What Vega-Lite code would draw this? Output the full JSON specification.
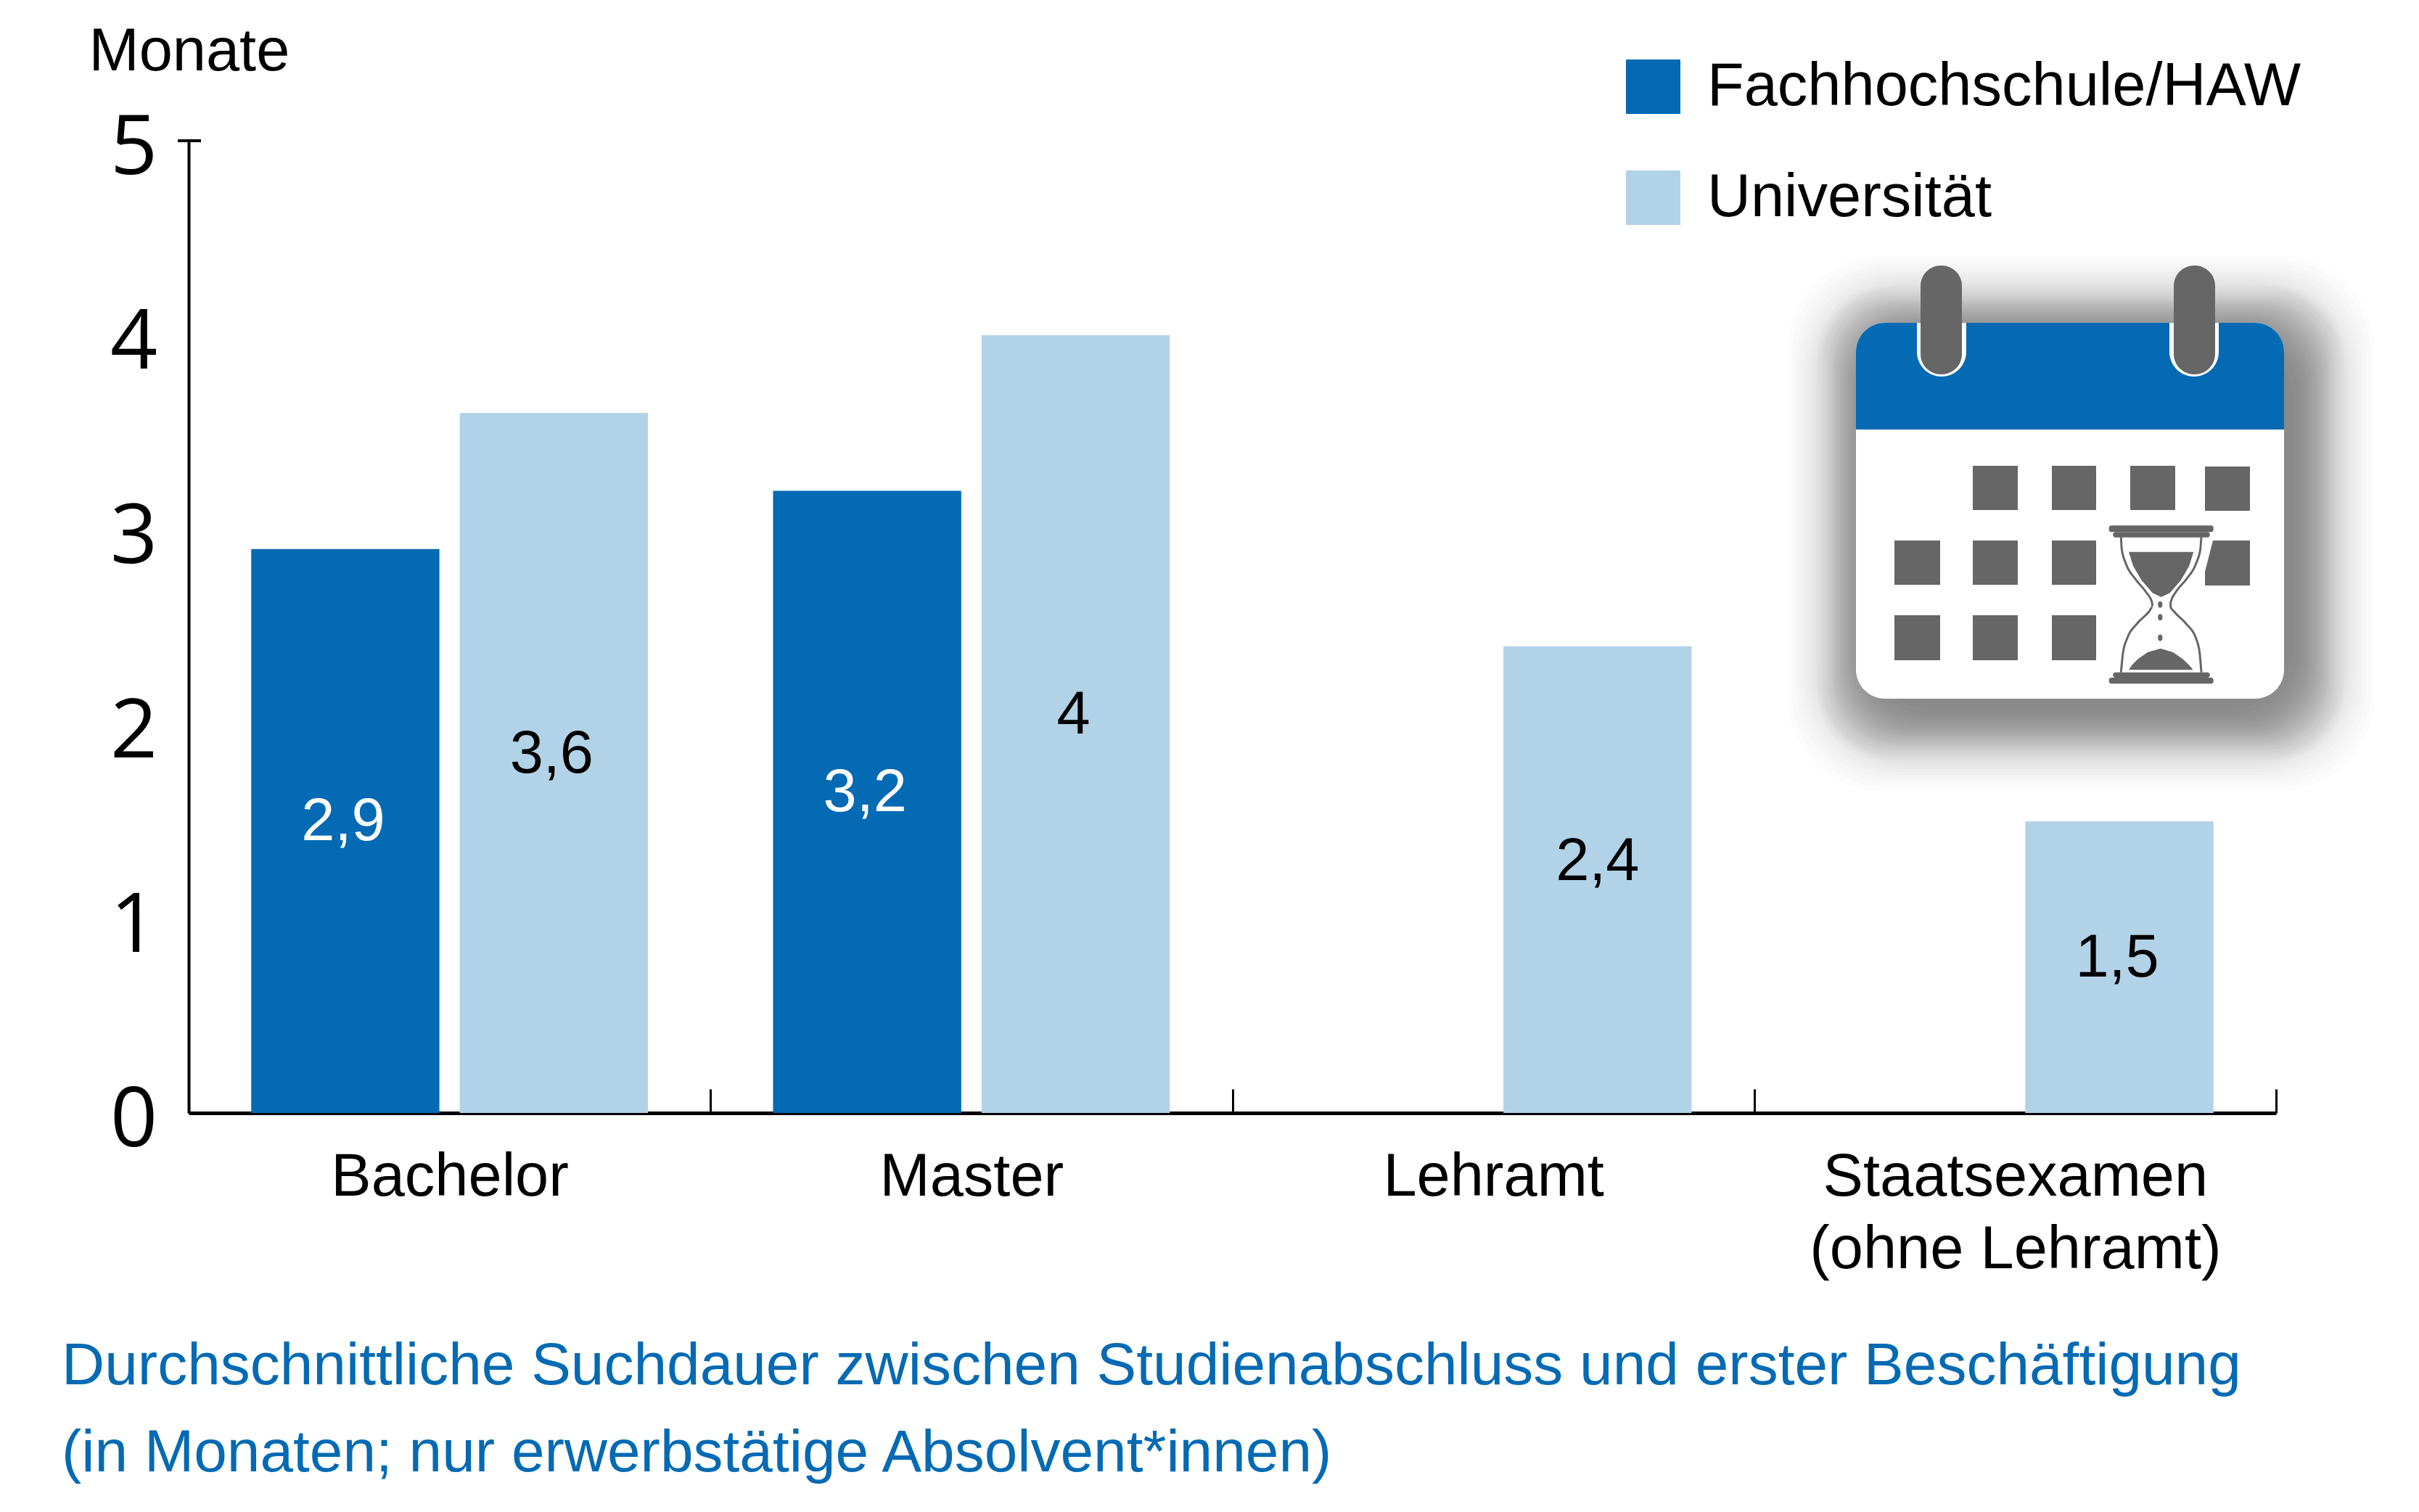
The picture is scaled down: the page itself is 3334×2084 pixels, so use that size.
{
"$schema":"https://vega.github.io/schema/vega-lite/v6.json",
"width":2877,"height":1340,
"autosize":{"type":"none"},
"padding":{"left":260,"top":194,"right":197,"bottom":550},
"background":"white",
"title":{"text":["Durchschnittliche Suchdauer zwischen Studienabschluss und erster Beschäftigung","(in Monaten; nur erwerbstätige Absolvent*innen)"],"orient":"bottom","anchor":"start","frame":"group","dx":-175,"offset":79,"font":"Liberation Sans","fontSize":82,"fontWeight":"normal","color":"#046AB3","lineHeight":120},
"datasets":{
"werte":[
{"Abschluss":"Bachelor","Hochschule":"Fachhochschule/HAW","Monate":2.9,"Wert":"2,9"},
{"Abschluss":"Bachelor","Hochschule":"Universität","Monate":3.6,"Wert":"3,6"},
{"Abschluss":"Master","Hochschule":"Fachhochschule/HAW","Monate":3.2,"Wert":"3,2"},
{"Abschluss":"Master","Hochschule":"Universität","Monate":4,"Wert":"4"},
{"Abschluss":"Lehramt","Hochschule":"Universität","Monate":2.4,"Wert":"2,4"},
{"Abschluss":"Staatsexamen (ohne Lehramt)","Hochschule":"Universität","Monate":1.5,"Wert":"1,5"}
],
"kappe":[{"x":245,"x2":277,"y":194}],
"schweif":[
{"x":2463,"x2":3273,"y":352,"y2":1090},{"x":2469,"x2":3267,"y":358,"y2":1084},{"x":2475,"x2":3261,"y":364,"y2":1078},{"x":2480,"x2":3256,"y":369,"y2":1073},{"x":2485,"x2":3251,"y":374,"y2":1068},
{"x":2489,"x2":3247,"y":378,"y2":1064},{"x":2493,"x2":3243,"y":382,"y2":1060},{"x":2497,"x2":3239,"y":386,"y2":1056},{"x":2500,"x2":3236,"y":389,"y2":1053},{"x":2503,"x2":3233,"y":392,"y2":1050}
],
"schatten":[
{"x":2506,"x2":3230,"y":395,"y2":1047},{"x":2510,"x2":3226,"y":399,"y2":1043},
{"x":2513,"x2":3223,"y":402,"y2":1040},{"x":2516,"x2":3220,"y":405,"y2":1037},{"x":2519,"x2":3217,"y":408,"y2":1034},{"x":2521,"x2":3215,"y":410,"y2":1032},{"x":2524,"x2":3212,"y":413,"y2":1029},
{"x":2526,"x2":3210,"y":415,"y2":1027},{"x":2528,"x2":3208,"y":417,"y2":1025},{"x":2530,"x2":3206,"y":419,"y2":1023},{"x":2532,"x2":3204,"y":421,"y2":1021},{"x":2534,"x2":3202,"y":423,"y2":1019},
{"x":2536,"x2":3200,"y":425,"y2":1017},{"x":2538,"x2":3198,"y":427,"y2":1015},{"x":2540,"x2":3196,"y":429,"y2":1013},{"x":2542,"x2":3194,"y":431,"y2":1011},{"x":2544,"x2":3192,"y":433,"y2":1009},
{"x":2546,"x2":3190,"y":435,"y2":1007},{"x":2549,"x2":3187,"y":438,"y2":1004},{"x":2551,"x2":3185,"y":440,"y2":1002},{"x":2554,"x2":3182,"y":443,"y2":999},{"x":2557,"x2":3179,"y":446,"y2":996},
{"x":2560,"x2":3176,"y":449,"y2":993},{"x":2564,"x2":3172,"y":453,"y2":989},{"x":2568,"x2":3168,"y":457,"y2":985},{"x":2575,"x2":3161,"y":464,"y2":978}
],
"blatt":[{"x":2558,"x2":3148,"y":445,"y2":963}],
"kopf":[{"x":2558,"x2":3148,"y":445,"y2":592}],
"ringrand":[{"x":2642,"x2":2710,"y":445,"y2":519},{"x":2990,"x2":3058,"y":445,"y2":519}],
"ringe":[{"x":2647,"x2":2704,"y":366,"y2":516},{"x":2996,"x2":3053,"y":366,"y2":516}],
"felder":[
{"x":2719,"x2":2781,"y":642,"y2":703},{"x":2828,"x2":2889,"y":642,"y2":703},{"x":2936,"x2":2998,"y":642,"y2":703},{"x":3039,"x2":3101,"y":643,"y2":704},
{"x":2611,"x2":2674,"y":745,"y2":806},{"x":2719,"x2":2781,"y":745,"y2":806},{"x":2828,"x2":2889,"y":745,"y2":806},
{"x":2611,"x2":2674,"y":848,"y2":910},{"x":2719,"x2":2781,"y":848,"y2":910},{"x":2828,"x2":2889,"y":848,"y2":910}
],
"flaechen":[
{"teil":"feld","y":745,"x":3050,"x2":3101},{"teil":"feld","y":788,"x":3039,"x2":3101},{"teil":"feld","y":807,"x":3039,"x2":3101},
{"teil":"oben","y":760.7,"x":2934,"x2":3023.3},{"teil":"oben","y":780,"x":2940,"x2":3017.3},{"teil":"oben","y":800,"x":2951.7,"x2":3005.7},{"teil":"oben","y":817.3,"x":2966.7,"x2":2990.7},{"teil":"oben","y":822.7,"x":2978.5,"x2":2979},
{"teil":"unten","y":894,"x":2977.3,"x2":2978.3},{"teil":"unten","y":899,"x":2960,"x2":2995},{"teil":"unten","y":908.3,"x":2946.7,"x2":3008.3},{"teil":"unten","y":916.7,"x":2938.3,"x2":3017.3},{"teil":"unten","y":923.3,"x":2934,"x2":3022.7}
],
"glas":[
{"seite":"links","y":740,"x":2923.3},{"seite":"links","y":756.7,"x":2924.3},{"seite":"links","y":776.7,"x":2930},{"seite":"links","y":798.3,"x":2943.3},{"seite":"links","y":816.7,"x":2958.3},{"seite":"links","y":830,"x":2966},{"seite":"links","y":836.7,"x":2966.7},{"seite":"links","y":843.3,"x":2961.7},{"seite":"links","y":860,"x":2945},{"seite":"links","y":880,"x":2931.7},{"seite":"links","y":900,"x":2926},{"seite":"links","y":926.7,"x":2923.3},
{"seite":"rechts","y":740,"x":3034},{"seite":"rechts","y":756.7,"x":3032.7},{"seite":"rechts","y":776.7,"x":3026.7},{"seite":"rechts","y":798.3,"x":3013.3},{"seite":"rechts","y":816.7,"x":2998.3},{"seite":"rechts","y":830,"x":2991.7},{"seite":"rechts","y":836.7,"x":2991.7},{"seite":"rechts","y":843.3,"x":2996.7},{"seite":"rechts","y":860,"x":3013.3},{"seite":"rechts","y":880,"x":3026.7},{"seite":"rechts","y":900,"x":3031.7},{"seite":"rechts","y":926.7,"x":3034}
],
"leisten":[
{"x":2906.7,"x2":3050.7,"y":724.3,"y2":733.3},{"x":2912.3,"x2":3045.7,"y":733.3,"y2":740.7},
{"x":2912.3,"x2":3045.7,"y":926.7,"y2":934},{"x":2906.7,"x2":3050.7,"y":934,"y2":942.3},
{"x":2974.3,"x2":2980.3,"y":828.8,"y2":837.8},{"x":2974.3,"x2":2980.3,"y":846.2,"y2":855.2},{"x":2974.3,"x2":2980.3,"y":874.5,"y2":883.5}
]
},
"resolve":{"scale":{"x":"independent","y":"independent","color":"independent"}},
"layer":[
{"data":{"name":"werte"},"mark":{"type":"bar"},
"encoding":{
"x":{"field":"Abschluss","type":"nominal","sort":null,"scale":{"domain":["Bachelor","Master","Lehramt","Staatsexamen (ohne Lehramt)"],"paddingInner":0,"paddingOuter":0},
"axis":{"title":null,"labelAngle":0,"labelFont":"Liberation Sans","labelFontSize":83,"labelColor":"black","labelLineHeight":100,"labelPadding":80,"labelBaseline":"top","labelLimit":0,"labelExpr":"datum.value == 'Staatsexamen (ohne Lehramt)' ? ['Staatsexamen','(ohne Lehramt)'] : datum.label","tickBand":"extent","tickSize":-33,"tickWidth":3,"tickColor":"black","domainColor":"black","domainWidth":5,"grid":false}},
"xOffset":{"field":"Hochschule","type":"nominal","scale":{"domain":["Fachhochschule/HAW","Universität"],"paddingInner":0.0976,"paddingOuter":0.3}},
"y":{"field":"Monate","type":"quantitative","scale":{"domain":[0,5],"nice":false},
"axis":{"values":[0,1,2,3,4,5],"grid":false,"ticks":false,"domainColor":"black","domainWidth":4,"labelFont":"Open Sans","labelFontSize":114,"labelColor":"black","labelAlign":"center","labelBaseline":"middle","labelPadding":76,"labelOffset":11,"title":"Monate","titleFont":"Liberation Sans","titleFontSize":83,"titleFontWeight":"normal","titleColor":"black","titleAngle":0,"titleAlign":"left","titleBaseline":"alphabetic","titleX":-138,"titleY":-98}},
"color":{"field":"Hochschule","type":"nominal","scale":{"domain":["Fachhochschule/HAW","Universität"],"range":["#046AB3","#B2D2E7"]},
"legend":{"title":null,"orient":"none","legendX":1977,"legendY":-116,"padding":0,"symbolType":"square","symbolSize":5625,"symbolStrokeWidth":0,"labelFont":"Liberation Sans","labelFontSize":83,"labelColor":"black","labelOffset":33,"labelLimit":0,"rowPadding":69}}
}},
{"data":{"name":"werte"},
"encoding":{
"x":{"field":"Abschluss","type":"nominal","sort":null,"scale":{"domain":["Bachelor","Master","Lehramt","Staatsexamen (ohne Lehramt)"],"paddingInner":0,"paddingOuter":0},"axis":null},
"xOffset":{"field":"Hochschule","type":"nominal","scale":{"domain":["Fachhochschule/HAW","Universität"],"paddingInner":0.0976,"paddingOuter":0.3}},
"y":{"field":"Monate","type":"quantitative","scale":{"domain":[0,10],"nice":false},"axis":null},
"text":{"field":"Wert","type":"nominal"},
"color":{"field":"Hochschule","type":"nominal","scale":{"domain":["Fachhochschule/HAW","Universität"],"range":["#FFFFFF","#000000"]},"legend":null}
},
"layer":[
{"transform":[{"filter":"datum.Abschluss != 'Lehramt'"}],"mark":{"type":"text","font":"Liberation Sans","fontSize":83,"baseline":"middle","align":"center","dx":-3,"dy":-12}},
{"transform":[{"filter":"datum.Abschluss == 'Lehramt'"}],"mark":{"type":"text","font":"Liberation Sans","fontSize":83,"baseline":"middle","align":"center","dx":0,"dy":-24}}
]},
{"encoding":{
"x":{"field":"x","type":"quantitative","scale":{"domain":[260,3137],"nice":false,"zero":false},"axis":null},
"y":{"field":"y","type":"quantitative","scale":{"domain":[1534,194],"nice":false,"zero":false},"axis":null}
},
"layer":[
{"data":{"name":"kappe"},"mark":{"type":"rule","color":"black","strokeWidth":4},"encoding":{"x2":{"field":"x2"}}},
{"data":{"name":"schweif"},"mark":{"type":"rect","color":"black","opacity":0.012,"cornerRadius":130},"encoding":{"x2":{"field":"x2"},"y2":{"field":"y2"}}},
{"data":{"name":"schatten"},"mark":{"type":"rect","color":"black","opacity":0.017,"cornerRadius":90},"encoding":{"x2":{"field":"x2"},"y2":{"field":"y2"}}},
{"data":{"name":"blatt"},"mark":{"type":"rect","color":"white","cornerRadius":40},"encoding":{"x2":{"field":"x2"},"y2":{"field":"y2"}}},
{"data":{"name":"kopf"},"mark":{"type":"rect","color":"#046AB3","cornerRadiusTopLeft":40,"cornerRadiusTopRight":40},"encoding":{"x2":{"field":"x2"},"y2":{"field":"y2"}}},
{"data":{"name":"ringrand"},"mark":{"type":"rect","color":"white","cornerRadiusBottomLeft":34,"cornerRadiusBottomRight":34},"encoding":{"x2":{"field":"x2"},"y2":{"field":"y2"}}},
{"data":{"name":"ringe"},"mark":{"type":"rect","color":"#666666","cornerRadius":28},"encoding":{"x2":{"field":"x2"},"y2":{"field":"y2"}}},
{"data":{"name":"felder"},"mark":{"type":"rect","color":"#666666"},"encoding":{"x2":{"field":"x2"},"y2":{"field":"y2"}}},
{"data":{"name":"flaechen"},"mark":{"type":"area","orient":"horizontal","color":"#666666"},"encoding":{"x2":{"field":"x2"},"detail":{"field":"teil"}}},
{"data":{"name":"glas"},"mark":{"type":"line","color":"#666666","strokeWidth":3,"interpolate":"monotone"},"encoding":{"detail":{"field":"seite"},"order":{"field":"y","type":"quantitative"}}},
{"data":{"name":"leisten"},"mark":{"type":"rect","color":"#666666","cornerRadius":3},"encoding":{"x2":{"field":"x2"},"y2":{"field":"y2"}}}
]}
],
"config":{"view":{"stroke":null}}
}
